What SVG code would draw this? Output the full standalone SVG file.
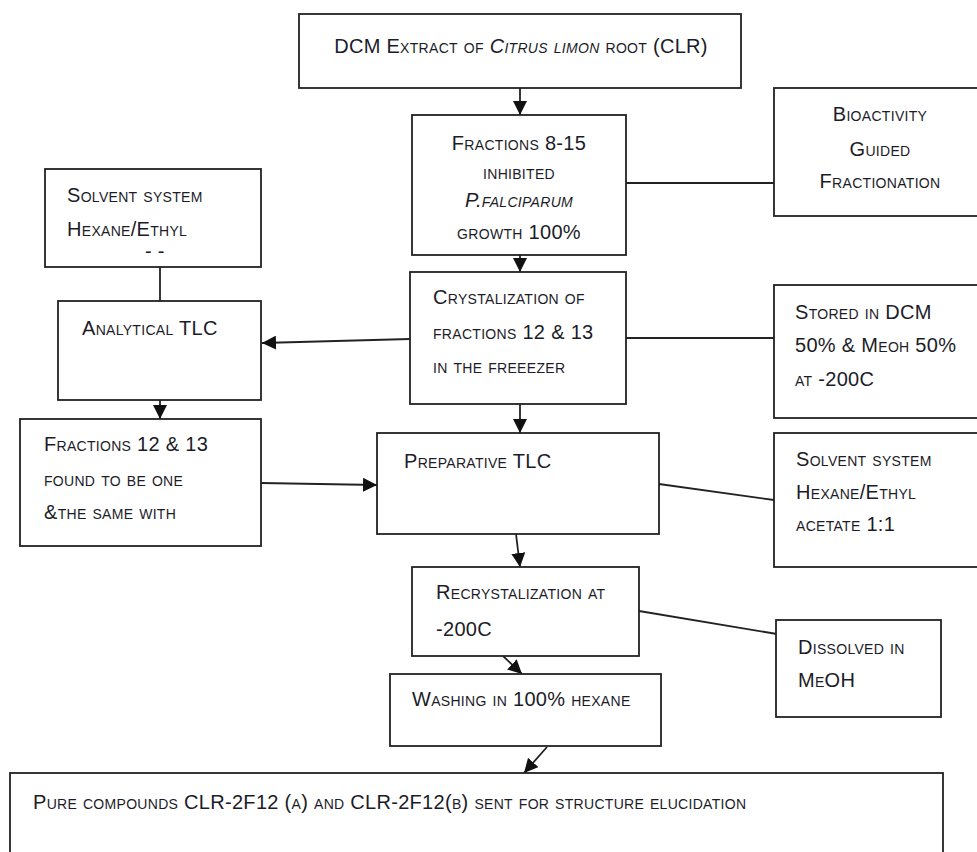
<svg xmlns="http://www.w3.org/2000/svg" width="977" height="852" viewBox="0 0 977 852">
<defs>
<style>
.box{fill:#fff;stroke:#222;stroke-width:1.8}
.t{font-family:"Liberation Sans",Arial,sans-serif;font-size:20px;letter-spacing:0.3px;font-variant:small-caps;fill:#1c1c28}
.c{text-anchor:middle}
.i{font-style:italic}
.ln{stroke:#222;stroke-width:1.8;fill:none}
</style>
<marker id="ah" viewBox="0 0 10 10" refX="10" refY="5" markerWidth="14" markerHeight="14" markerUnits="userSpaceOnUse" orient="auto">
<path d="M0,0 L10,5 L0,10 z" fill="#111"/>
</marker>
</defs>
<rect width="977" height="852" fill="#fff"/>
<g id="connectors">
<line class="ln" x1="520" y1="88" x2="520" y2="115" marker-end="url(#ah)"/>
<line class="ln" x1="626" y1="183" x2="774" y2="183"/>
<line class="ln" x1="520" y1="255" x2="520" y2="272" marker-end="url(#ah)"/>
<line class="ln" x1="626" y1="338" x2="774" y2="338"/>
<line class="ln" x1="410" y1="339" x2="262" y2="343" marker-end="url(#ah)"/>
<line class="ln" x1="160" y1="267" x2="160" y2="301"/>
<line class="ln" x1="160" y1="400" x2="160" y2="419" marker-end="url(#ah)"/>
<line class="ln" x1="261" y1="483" x2="377" y2="485" marker-end="url(#ah)"/>
<line class="ln" x1="520" y1="404" x2="520" y2="433" marker-end="url(#ah)"/>
<line class="ln" x1="659" y1="484" x2="774" y2="500"/>
<line class="ln" x1="516" y1="534" x2="520" y2="567" marker-end="url(#ah)"/>
<line class="ln" x1="639" y1="611" x2="777" y2="634"/>
<line class="ln" x1="503" y1="656" x2="522" y2="674" marker-end="url(#ah)"/>
<line class="ln" x1="547" y1="747" x2="524" y2="773" marker-end="url(#ah)"/>
</g>
<g id="n-top">
<rect class="box" x="299" y="14" width="442" height="74"/>
<text class="t c" x="521" y="53">DCM Extract of <tspan class="i">Citrus limon</tspan> root (CLR)</text>
</g>
<g id="n-fractions">
<rect class="box" x="412" y="115" width="214" height="140"/>
<text class="t c" x="519" y="150">Fractions 8-15</text>
<text class="t c" x="519" y="179">inhibited</text>
<text class="t c i" x="519" y="207">P.falciparum</text>
<text class="t c" x="519" y="239">growth 100%</text>
</g>
<g id="n-bio">
<rect class="box" x="774" y="88" width="210" height="128"/>
<text class="t c" x="880" y="121">Bioactivity</text>
<text class="t c" x="880" y="156">Guided</text>
<text class="t c" x="880" y="188">Fractionation</text>
</g>
<g id="n-solvent1">
<rect class="box" x="45" y="169" width="216" height="98"/>
<text class="t" x="67" y="202">Solvent system</text>
<text class="t" x="67" y="236">Hexane/Ethyl</text>
<text class="t" x="145" y="258">- -</text>
</g>
<g id="n-analytical">
<rect class="box" x="58" y="301" width="203" height="99"/>
<text class="t" x="82" y="335">Analytical TLC</text>
</g>
<g id="n-crystal">
<rect class="box" x="410" y="272" width="216" height="132"/>
<text class="t" x="433" y="304">Crystalization of</text>
<text class="t" x="433" y="339">fractions 12 &amp; 13</text>
<text class="t" x="433" y="373">in the freeezer</text>
</g>
<g id="n-stored">
<rect class="box" x="774" y="285" width="210" height="133"/>
<text class="t" x="795" y="319">Stored in DCM</text>
<text class="t" x="795" y="352">50% &amp; Meoh 50%</text>
<text class="t" x="795" y="386">at -200C</text>
</g>
<g id="n-frac1213">
<rect class="box" x="20" y="419" width="241" height="127"/>
<text class="t" x="44" y="451">Fractions 12 &amp; 13</text>
<text class="t" x="44" y="486">found to be one</text>
<text class="t" x="44" y="519">&amp;the same with</text>
</g>
<g id="n-prep">
<rect class="box" x="377" y="433" width="282" height="101"/>
<text class="t" x="404" y="468">Preparative TLC</text>
</g>
<g id="n-solvent2">
<rect class="box" x="774" y="433" width="210" height="134"/>
<text class="t" x="796" y="466">Solvent system</text>
<text class="t" x="796" y="499">Hexane/Ethyl</text>
<text class="t" x="796" y="531">acetate 1:1</text>
</g>
<g id="n-recryst">
<rect class="box" x="412" y="567" width="227" height="89"/>
<text class="t" x="436" y="599">Recrystalization at</text>
<text class="t" x="436" y="636">-200C</text>
</g>
<g id="n-dissolved">
<rect class="box" x="776" y="620" width="165" height="97"/>
<text class="t" x="798" y="654">Dissolved in</text>
<text class="t" x="798" y="687">MeOH</text>
</g>
<g id="n-washing">
<rect class="box" x="390" y="674" width="271" height="72"/>
<text class="t" x="412" y="706">Washing in 100% hexane</text>
</g>
<g id="n-final">
<rect class="box" x="10" y="773" width="933" height="90"/>
<text class="t" x="33" y="809">Pure compounds CLR-2F12 (a) and CLR-2F12(b) sent for structure elucidation</text>
</g>
</svg>
